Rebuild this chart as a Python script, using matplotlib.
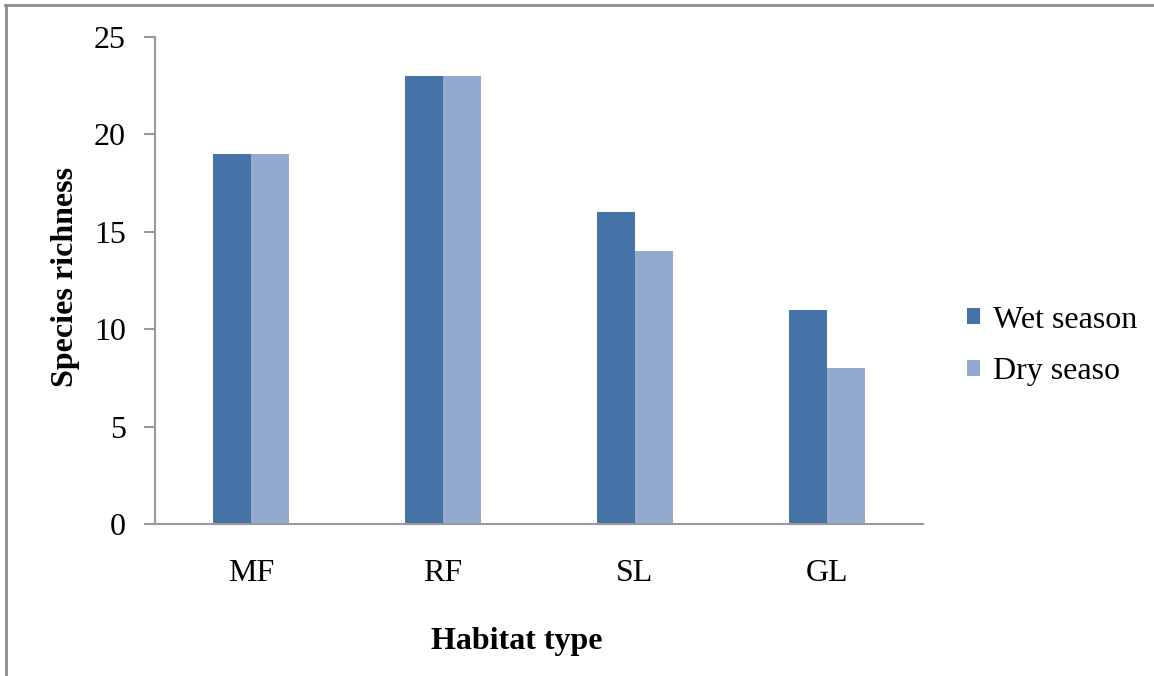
import numpy as np
import matplotlib
matplotlib.use("Agg")
import matplotlib.pyplot as plt
from matplotlib.lines import Line2D

habitats = ["MF", "RF", "SL", "GL"]
wet_season = [19, 23, 16, 11]
dry_season = [19, 23, 14, 8]
series_names = ["Wet season", "Dry seaso"]
yticks = [0, 5, 10, 15, 20, 25]

plt.rcParams["font.family"] = ["Liberation Serif", "DejaVu Serif"]

fig = plt.figure(figsize=(11.54, 6.76), dpi=100)
ax = fig.add_axes([155/1154, 1-524/676, (923-155)/1154, (524-37)/676])

x = np.arange(len(habitats))
w = 0.2
b1 = ax.bar(x - w/2, wet_season, width=w, color="#4572A7", label=series_names[0])
b2 = ax.bar(x + w/2, dry_season, width=w, color="#93A9CF", label=series_names[1])

ax.set_xlim(-0.5, len(habitats) - 0.5)
ax.set_ylim(0, 25)
ax.set_yticks(yticks)
ax.set_xticks(x)
ax.set_xticklabels(habitats)

for s in ["top", "right"]:
    ax.spines[s].set_visible(False)
for s in ["left", "bottom"]:
    ax.spines[s].set_color("#9A9A9A")
    ax.spines[s].set_linewidth(1.5)

ax.tick_params(axis="y", length=8, width=1.5, color="#9A9A9A", labelsize=23, pad=13)
ax.tick_params(axis="x", length=0, labelsize=23, pad=25)

ax.set_ylabel("Species richness", fontsize=23, fontweight="bold", labelpad=10)
ax.set_xlabel("Habitat type", fontsize=23, fontweight="bold", labelpad=28)
ax.yaxis.label.set_y((524-277)/(524-37))
ax.xaxis.label.set_x((517-155)/(923-155))

fig.legend(handles=[b1, b2], loc="center left",
           bbox_to_anchor=(951/1154, 1-346/676), frameon=False,
           fontsize=23, handlelength=0.4, handleheight=0.4,
           handletextpad=0.4, labelspacing=0.7, borderpad=0)

# outer frame (only top and left visible)
fig.add_artist(Line2D([5/1154, 1], [1-5/676, 1-5/676], transform=fig.transFigure,
                      color="#8C8C8C", lw=2))
fig.add_artist(Line2D([6/1154, 6/1154], [0, 1-5/676], transform=fig.transFigure,
                      color="#8C8C8C", lw=2))

fig.savefig("out.png", dpi=100)
